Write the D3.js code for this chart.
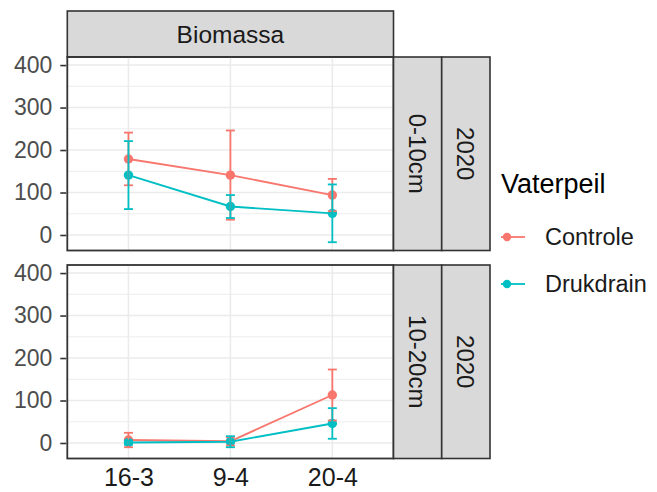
<!DOCTYPE html>
<html>
<head>
<meta charset="utf-8">
<script src="https://cdn.jsdelivr.net/npm/d3@7"></script>
<style>
  html, body { margin: 0; padding: 0; background: #ffffff; }
  svg { display: block; font-family: "Liberation Sans", Arial, sans-serif; }
</style>
</head>
<body>
<svg id="chart" width="657" height="492"></svg>
<script>
// ---- data ----
const categories = ["16-3", "9-4", "20-4"];
const seriesNames = ["Controle", "Drukdrain"];
const seriesColors = ["#F8766D", "#00BFC4"];
const depthLabels = ["0-10cm", "10-20cm"];
const yearLabel = "2020";
const facetTitle = "Biomassa";
const legendTitle = "Vaterpeil";
const yTicks = [0, 100, 200, 300, 400];
const yMinor = [50, 150, 250, 350];

// depth 0-10cm
const controle010 = [179, 141, 94];
const controle010Se = [62, 105, 38];
const drukdrain010 = [141, 67, 51];
const drukdrain010Se = [80, 27, 68];
// depth 10-20cm
const controle1020 = [7, 4, 113];
const controle1020Se = [17, 10, 60];
const drukdrain1020 = [1, 3, 46];
const drukdrain1020Se = [5, 13, 36];

const panelsData = [
  { depth: depthLabels[0], series: [
      { name: seriesNames[0], values: controle010, se: controle010Se },
      { name: seriesNames[1], values: drukdrain010, se: drukdrain010Se } ] },
  { depth: depthLabels[1], series: [
      { name: seriesNames[0], values: controle1020, se: controle1020Se },
      { name: seriesNames[1], values: drukdrain1020, se: drukdrain1020Se } ] }
];

// ---- layout ----
const svg = d3.select("#chart");
const px0 = 67.3, px1 = 393.5;
const panels = [ { top: 57, bottom: 250.5 }, { top: 265, bottom: 458.5 } ];
const strip1 = [393.5, 441.7], strip2 = [441.7, 490];
const color = d3.scaleOrdinal().domain(seriesNames).range(seriesColors);

const x = d3.scalePoint().domain(categories).range([px0, px1]).padding(0.6);

// top facet strip
svg.append("rect").attr("x", px0).attr("y", 11).attr("width", px1 - px0).attr("height", 46)
  .attr("fill", "#D9D9D9").attr("stroke", "#333333").attr("stroke-width", 1.6);
svg.append("text").attr("x", (px0 + px1) / 2).attr("y", 34).attr("dy", "0.36em")
  .attr("text-anchor", "middle").attr("font-size", 24.5).attr("fill", "#1A1A1A").text(facetTitle);

panelsData.forEach((pd, i) => {
  const p = panels[i];
  const y = d3.scaleLinear().domain([-36.5, 419]).range([p.bottom, p.top]);
  const g = svg.append("g");

  // grid
  g.selectAll(".minor").data(yMinor).join("line")
    .attr("x1", px0).attr("x2", px1).attr("y1", d => y(d)).attr("y2", d => y(d))
    .attr("stroke", "#EBEBEB").attr("stroke-width", 0.9);
  g.selectAll(".major").data(yTicks).join("line")
    .attr("x1", px0).attr("x2", px1).attr("y1", d => y(d)).attr("y2", d => y(d))
    .attr("stroke", "#EBEBEB").attr("stroke-width", 1.6);
  g.selectAll(".vmajor").data(categories).join("line")
    .attr("x1", d => x(d)).attr("x2", d => x(d)).attr("y1", p.top).attr("y2", p.bottom)
    .attr("stroke", "#EBEBEB").attr("stroke-width", 1.6);

  // y axis
  const yAxis = d3.axisLeft(y).tickValues(yTicks).tickSize(6).tickPadding(8);
  const ax = svg.append("g").attr("transform", `translate(${px0 - 1},0)`).call(yAxis);
  ax.select(".domain").remove();
  ax.selectAll(".tick line").attr("stroke", "#333333").attr("stroke-width", 1.6);
  ax.selectAll(".tick text").attr("font-size", 23).attr("fill", "#4D4D4D")
    .attr("font-family", "Liberation Sans, Arial, sans-serif");

  // lines
  const line = d3.line().x((d, j) => x(categories[j])).y(d => y(d));
  pd.series.forEach(s => {
    g.append("path").datum(s.values).attr("d", line).attr("fill", "none")
      .attr("stroke", color(s.name)).attr("stroke-width", 1.9);
  });
  // points
  pd.series.forEach(s => {
    g.selectAll(null).data(s.values).join("circle")
      .attr("cx", (d, j) => x(categories[j])).attr("cy", d => y(d)).attr("r", 4.7)
      .attr("fill", color(s.name));
  });
  // error bars
  const cap = 4.5;
  pd.series.forEach(s => {
    const eb = g.selectAll(null).data(s.values.map((v, j) => ({ v, se: s.se[j], c: categories[j] })))
      .join("g").attr("stroke", color(s.name)).attr("stroke-width", 1.8);
    eb.append("line").attr("x1", d => x(d.c)).attr("x2", d => x(d.c))
      .attr("y1", d => y(d.v - d.se)).attr("y2", d => y(d.v + d.se));
    eb.append("line").attr("x1", d => x(d.c) - cap).attr("x2", d => x(d.c) + cap)
      .attr("y1", d => y(d.v + d.se)).attr("y2", d => y(d.v + d.se));
    eb.append("line").attr("x1", d => x(d.c) - cap).attr("x2", d => x(d.c) + cap)
      .attr("y1", d => y(d.v - d.se)).attr("y2", d => y(d.v - d.se));
  });

  // panel border
  svg.append("rect").attr("x", px0).attr("y", p.top).attr("width", px1 - px0).attr("height", p.bottom - p.top)
    .attr("fill", "none").attr("stroke", "#333333").attr("stroke-width", 1.8);

  // right strips
  [[strip1, pd.depth], [strip2, yearLabel]].forEach(([s, label]) => {
    svg.append("rect").attr("x", s[0]).attr("y", p.top).attr("width", s[1] - s[0]).attr("height", p.bottom - p.top)
      .attr("fill", "#D9D9D9").attr("stroke", "#333333").attr("stroke-width", 1.6);
    const cx = (s[0] + s[1]) / 2, cy = (p.top + p.bottom) / 2;
    svg.append("text").attr("transform", `translate(${cx},${cy}) rotate(90)`)
      .attr("text-anchor", "middle").attr("dy", "0.36em")
      .attr("font-size", 24).attr("fill", "#1A1A1A").text(label);
  });
});

// x axis labels (bottom panel)
const xAxis = d3.axisBottom(x).tickSize(0).tickPadding(10);
const xa = svg.append("g").attr("transform", `translate(0,${panels[1].bottom})`).call(xAxis);
xa.select(".domain").remove();
xa.selectAll(".tick text").attr("font-size", 25).attr("fill", "#1A1A1A")
  .attr("font-family", "Liberation Sans, Arial, sans-serif");

// legend
const lg = svg.append("g");
lg.append("text").attr("x", 501).attr("y", 193).attr("font-size", 27).attr("fill", "#000").text(legendTitle);
seriesNames.forEach((n, i) => {
  const cy = 237 + i * 47;
  lg.append("line").attr("x1", 501).attr("x2", 525).attr("y1", cy).attr("y2", cy)
    .attr("stroke", color(n)).attr("stroke-width", 1.8);
  lg.append("circle").attr("cx", 507).attr("cy", cy).attr("r", 4.2).attr("fill", color(n));
  lg.append("text").attr("x", 545).attr("y", cy).attr("dy", "0.36em")
    .attr("font-size", 23.5).attr("fill", "#1A1A1A").text(n);
});
</script>
</body>
</html>
